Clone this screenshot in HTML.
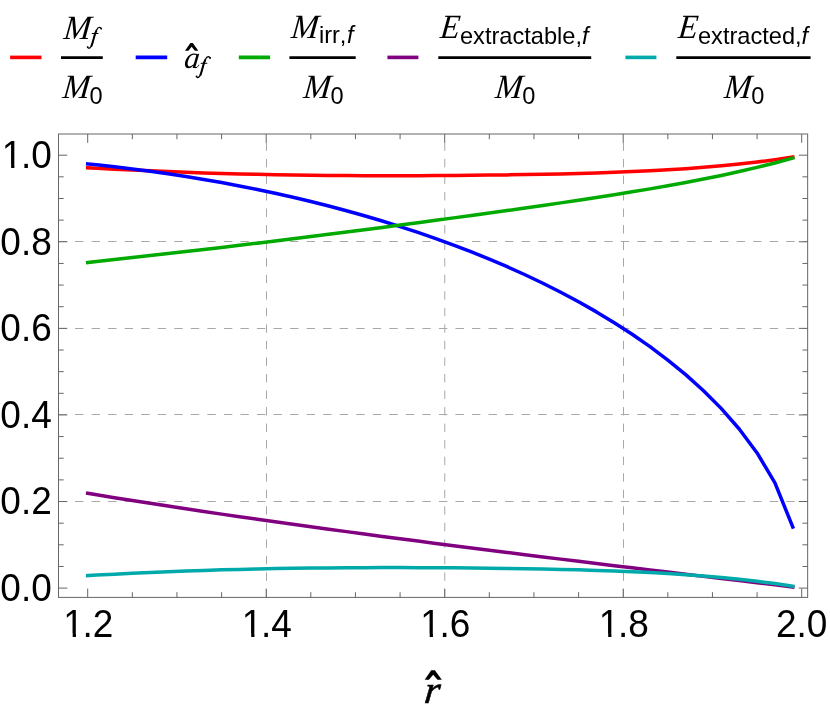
<!DOCTYPE html>
<html><head><meta charset="utf-8"><title>plot</title>
<style>
html,body{margin:0;padding:0;background:#fff;}
svg{display:block;will-change:transform;}
text{fill:#000;}
.sans{font-family:"Liberation Sans",sans-serif;}
.serif{font-family:"Liberation Serif",serif;font-style:italic;}
</style></head><body>
<svg width="830" height="721" viewBox="0 0 830 721">
<rect width="830" height="721" fill="#fff"/>

<g stroke="#a8a8a8" stroke-width="1" fill="none" stroke-dasharray="8.4 8.14">
<path d="M58.50,501.50 H807.65"/>
<path d="M58.50,414.50 H807.65"/>
<path d="M58.50,328.50 H807.65"/>
<path d="M58.50,241.50 H807.65"/>
<path d="M266.50,597.40 V134.00"/>
<path d="M444.75,597.40 V134.00"/>
<path d="M623.50,597.40 V134.00"/>
</g>
<g fill="none" stroke-width="3.5" stroke-linejoin="round" stroke-linecap="square">
<path stroke="#ff0000" d="M87.70,167.75 L96.63,168.23 L114.48,169.15 L132.33,170.02 L150.18,170.83 L168.03,171.58 L185.88,172.26 L203.73,172.88 L221.58,173.43 L239.43,173.92 L257.28,174.34 L275.13,174.70 L292.98,175.00 L310.83,175.24 L328.68,175.42 L346.53,175.56 L364.38,175.65 L382.23,175.70 L400.08,175.70 L417.93,175.66 L435.78,175.58 L453.63,175.47 L471.48,175.31 L489.33,175.12 L507.18,174.88 L525.03,174.60 L542.88,174.27 L560.73,173.89 L578.58,173.43 L596.43,172.90 L614.28,172.29 L632.13,171.57 L649.98,170.74 L667.83,169.77 L685.68,168.64 L703.53,167.33 L721.38,165.81 L739.23,164.06 L757.08,162.04 L774.93,159.71 L792.78,157.03"/>
<path stroke="#0000ff" d="M87.70,163.95 L96.63,164.85 L114.48,166.81 L132.33,168.95 L150.18,171.28 L168.03,173.80 L185.88,176.53 L203.73,179.45 L221.58,182.58 L239.43,185.92 L257.28,189.48 L275.13,193.26 L292.98,197.27 L310.83,201.51 L328.68,205.99 L346.53,210.73 L364.38,215.73 L382.23,221.00 L400.08,226.56 L417.93,232.41 L435.78,238.58 L453.63,245.07 L471.48,251.91 L489.33,259.12 L507.18,266.73 L525.03,274.76 L542.88,283.25 L560.73,292.24 L578.58,301.76 L596.43,311.89 L614.28,322.69 L632.13,334.23 L649.98,346.64 L667.83,360.06 L685.68,374.66 L703.53,390.71 L721.38,408.62 L739.23,428.98 L757.08,452.93 L774.93,482.86 L792.78,527.03"/>
<path stroke="#00aa00" d="M87.70,262.50 L96.63,261.52 L114.48,259.55 L132.33,257.58 L150.18,255.59 L168.03,253.59 L185.88,251.56 L203.73,249.50 L221.58,247.42 L239.43,245.30 L257.28,243.16 L275.13,240.99 L292.98,238.79 L310.83,236.56 L328.68,234.30 L346.53,232.02 L364.38,229.72 L382.23,227.39 L400.08,225.05 L417.93,222.68 L435.78,220.29 L453.63,217.88 L471.48,215.45 L489.33,212.99 L507.18,210.51 L525.03,208.00 L542.88,205.45 L560.73,202.86 L578.58,200.21 L596.43,197.51 L614.28,194.72 L632.13,191.85 L649.98,188.87 L667.83,185.76 L685.68,182.50 L703.53,179.07 L721.38,175.42 L739.23,171.55 L757.08,167.40 L774.93,162.93 L792.78,158.11"/>
<path stroke="#800080" d="M87.70,493.35 L96.63,494.81 L114.48,497.70 L132.33,500.54 L150.18,503.34 L168.03,506.10 L185.88,508.81 L203.73,511.48 L221.58,514.12 L239.43,516.71 L257.28,519.28 L275.13,521.81 L292.98,524.31 L310.83,526.78 L328.68,529.22 L346.53,531.64 L364.38,534.03 L382.23,536.40 L400.08,538.75 L417.93,541.08 L435.78,543.39 L453.63,545.69 L471.48,547.97 L489.33,550.23 L507.18,552.47 L525.03,554.71 L542.88,556.92 L560.73,559.13 L578.58,561.32 L596.43,563.50 L614.28,565.66 L632.13,567.82 L649.98,569.97 L667.83,572.11 L685.68,574.24 L703.53,576.37 L721.38,578.49 L739.23,580.61 L757.08,582.74 L774.93,584.87 L792.78,587.02"/>
<path stroke="#00aaaa" d="M87.70,575.55 L96.63,575.07 L114.48,574.15 L132.33,573.28 L150.18,572.47 L168.03,571.72 L185.88,571.04 L203.73,570.42 L221.58,569.87 L239.43,569.38 L257.28,568.96 L275.13,568.60 L292.98,568.30 L310.83,568.06 L328.68,567.88 L346.53,567.74 L364.38,567.65 L382.23,567.60 L400.08,567.60 L417.93,567.64 L435.78,567.72 L453.63,567.83 L471.48,567.99 L489.33,568.18 L507.18,568.42 L525.03,568.70 L542.88,569.03 L560.73,569.41 L578.58,569.87 L596.43,570.40 L614.28,571.01 L632.13,571.73 L649.98,572.56 L667.83,573.53 L685.68,574.66 L703.53,575.97 L721.38,577.49 L739.23,579.24 L757.08,581.26 L774.93,583.59 L792.78,586.27"/>
</g>
<g stroke="#666666" stroke-width="1" fill="none">
<rect x="58.5" y="134.0" width="749.15" height="463.40"/>
<path d="M87.70,597.40 v-8.8 M87.70,134.00 v8.8 M132.33,597.40 v-5.2 M132.33,134.00 v5.2 M176.95,597.40 v-5.2 M176.95,134.00 v5.2 M221.58,597.40 v-5.2 M221.58,134.00 v5.2 M266.20,597.40 v-8.8 M266.20,134.00 v8.8 M310.82,597.40 v-5.2 M310.82,134.00 v5.2 M355.45,597.40 v-5.2 M355.45,134.00 v5.2 M400.08,597.40 v-5.2 M400.08,134.00 v5.2 M444.70,597.40 v-8.8 M444.70,134.00 v8.8 M489.32,597.40 v-5.2 M489.32,134.00 v5.2 M533.95,597.40 v-5.2 M533.95,134.00 v5.2 M578.58,597.40 v-5.2 M578.58,134.00 v5.2 M623.20,597.40 v-8.8 M623.20,134.00 v8.8 M667.83,597.40 v-5.2 M667.83,134.00 v5.2 M712.45,597.40 v-5.2 M712.45,134.00 v5.2 M757.08,597.40 v-5.2 M757.08,134.00 v5.2 M801.70,597.40 v-8.8 M801.70,134.00 v8.8 M58.50,588.10 h8.8 M807.65,588.10 h-8.8 M58.50,566.46 h5.2 M807.65,566.46 h-5.2 M58.50,544.81 h5.2 M807.65,544.81 h-5.2 M58.50,523.16 h5.2 M807.65,523.16 h-5.2 M58.50,501.52 h8.8 M807.65,501.52 h-8.8 M58.50,479.88 h5.2 M807.65,479.88 h-5.2 M58.50,458.23 h5.2 M807.65,458.23 h-5.2 M58.50,436.59 h5.2 M807.65,436.59 h-5.2 M58.50,414.94 h8.8 M807.65,414.94 h-8.8 M58.50,393.30 h5.2 M807.65,393.30 h-5.2 M58.50,371.65 h5.2 M807.65,371.65 h-5.2 M58.50,350.00 h5.2 M807.65,350.00 h-5.2 M58.50,328.36 h8.8 M807.65,328.36 h-8.8 M58.50,306.71 h5.2 M807.65,306.71 h-5.2 M58.50,285.07 h5.2 M807.65,285.07 h-5.2 M58.50,263.43 h5.2 M807.65,263.43 h-5.2 M58.50,241.78 h8.8 M807.65,241.78 h-8.8 M58.50,220.13 h5.2 M807.65,220.13 h-5.2 M58.50,198.49 h5.2 M807.65,198.49 h-5.2 M58.50,176.84 h5.2 M807.65,176.84 h-5.2 M58.50,155.20 h8.8 M807.65,155.20 h-8.8"/>
</g>
<g class="sans" font-size="37.0">
<text transform="translate(0.31,601.00) scale(1,1.058)">0.0</text>
<text transform="translate(0.31,514.42) scale(1,1.058)">0.2</text>
<text transform="translate(0.31,427.84) scale(1,1.058)">0.4</text>
<text transform="translate(0.31,341.26) scale(1,1.058)">0.6</text>
<text transform="translate(0.31,254.68) scale(1,1.058)">0.8</text>
<text transform="translate(0.31,168.10) scale(1,1.058)"><tspan dx="1.5">1</tspan><tspan dx="-1.5">.0</tspan></text><rect x="3.93" y="164.48" width="7.19" height="4.32" fill="#fff"/><rect x="14.39" y="164.48" width="6.90" height="4.32" fill="#fff"/>
<text transform="translate(61.88,637.10) scale(1,1.058)"><tspan dx="1.5">1</tspan><tspan dx="-1.5">.2</tspan></text><rect x="65.50" y="633.48" width="7.19" height="4.32" fill="#fff"/><rect x="75.96" y="633.48" width="6.90" height="4.32" fill="#fff"/>
<text transform="translate(240.38,637.10) scale(1,1.058)"><tspan dx="1.5">1</tspan><tspan dx="-1.5">.4</tspan></text><rect x="244.00" y="633.48" width="7.19" height="4.32" fill="#fff"/><rect x="254.46" y="633.48" width="6.90" height="4.32" fill="#fff"/>
<text transform="translate(418.88,637.10) scale(1,1.058)"><tspan dx="1.5">1</tspan><tspan dx="-1.5">.6</tspan></text><rect x="422.50" y="633.48" width="7.19" height="4.32" fill="#fff"/><rect x="432.96" y="633.48" width="6.90" height="4.32" fill="#fff"/>
<text transform="translate(597.38,637.10) scale(1,1.058)"><tspan dx="1.5">1</tspan><tspan dx="-1.5">.8</tspan></text><rect x="601.00" y="633.48" width="7.19" height="4.32" fill="#fff"/><rect x="611.46" y="633.48" width="6.90" height="4.32" fill="#fff"/>
<text transform="translate(775.88,637.10) scale(1,1.058)">2.0</text>
</g>
<text class="serif" font-size="39.0" stroke="#000" stroke-width="0.55" transform="translate(423.6,702.9) skewX(-6.0) scale(1.03,1)">r</text>
<path d="M424.7,679.7 L431.2,670.2 L434.9,670.2 L441.8,679.7 L437.5,679.7 L433.2,674.7 L428.9,679.7 Z" fill="#000"/>
<path d="M10.1,57.4 H41.5" stroke="#ff0000" stroke-width="3.6" fill="none"/>
<path d="M61.0,57.7 H102.8" stroke="#000" stroke-width="2.8" fill="none"/>
<text class="serif" font-size="34" transform="translate(63.1,38.6) skewX(-6.0) scale(0.96,1)">M</text>
<g transform="translate(0,0)" fill="none" stroke="#000" stroke-linecap="round" stroke-linejoin="round"><path stroke-width="1.15" d="M101.3,28.7 C101.0,27.6 100.3,27.3 99.4,27.3 C98.0,27.4 97.2,28.6 96.6,30.0 C96.0,31.4 95.5,32.5 95.0,33.9 L92.4,43.3 C91.9,44.8 91.6,45.7 91.0,46.6 C90.3,47.8 89.6,48.3 88.7,48.3 C88.0,48.2 87.7,47.8 87.6,47.2"/><path stroke-width="2.0" d="M96.3,30.8 C95.8,31.9 95.4,32.8 95.0,33.9 L92.4,43.3 C92.1,44.3 91.8,45.1 91.5,45.7"/><path stroke-width="1.0" d="M92.2,33.50 H98.0"/><circle cx="101.2" cy="28.6" r="0.95" fill="#000" stroke="none"/><circle cx="87.7" cy="47.1" r="0.95" fill="#000" stroke="none"/></g>
<text class="serif" font-size="34" transform="translate(61.9,98.2) skewX(-6.0) scale(0.96,1)">M</text><text class="sans" font-size="23.6" x="89.5" y="104.0">0</text>
<path d="M135.7,57.4 H167.2" stroke="#0000ff" stroke-width="3.6" fill="none"/>
<text class="serif" font-size="30.8" transform="translate(183.4,68.1) skewX(-6.0) scale(1.0,1)">a</text>
<path d="M185.0,50.7 L190.4,43.1 L192.8,43.1 L198.3,50.7 L194.9,50.7 L191.6,46.7 L188.4,50.7 Z" fill="#000"/>
<path d="M195.9,67.8 C197.1,67.5 198.1,66.4 198.8,65.1" fill="none" stroke="#000" stroke-width="0.9" stroke-linecap="round"/>
<g transform="translate(108.9,29.3)" fill="none" stroke="#000" stroke-linecap="round" stroke-linejoin="round"><path stroke-width="1.15" d="M101.3,28.7 C101.0,27.6 100.3,27.3 99.4,27.3 C98.0,27.4 97.2,28.6 96.6,30.0 C96.0,31.4 95.5,32.5 95.0,33.9 L92.4,43.3 C91.9,44.8 91.6,45.7 91.0,46.6 C90.3,47.8 89.6,48.3 88.7,48.3 C88.0,48.2 87.7,47.8 87.6,47.2"/><path stroke-width="2.0" d="M96.3,30.8 C95.8,31.9 95.4,32.8 95.0,33.9 L92.4,43.3 C92.1,44.3 91.8,45.1 91.5,45.7"/><path stroke-width="1.0" d="M92.2,34.00 H98.0"/><circle cx="101.2" cy="28.6" r="0.95" fill="#000" stroke="none"/><circle cx="87.7" cy="47.1" r="0.95" fill="#000" stroke="none"/></g>
<path d="M238.8,57.4 H270.1" stroke="#00aa00" stroke-width="3.6" fill="none"/>
<path d="M289.4,57.7 H355.7" stroke="#000" stroke-width="2.8" fill="none"/>
<text class="serif" font-size="34" transform="translate(290.6,37.7) skewX(-6.0) scale(0.96,1)">M</text>
<text class="sans" font-size="23.6" x="319.0" y="43.3">irr<tspan dx="1.0">,</tspan><tspan dx="0.9" font-style="italic">f</tspan></text>
<text class="serif" font-size="34" transform="translate(302.8,98.2) skewX(-6.0) scale(0.96,1)">M</text><text class="sans" font-size="23.6" x="330.4" y="104.0">0</text>
<path d="M387.4,57.4 H418.4" stroke="#800080" stroke-width="3.6" fill="none"/>
<path d="M438.3,57.7 H591.2" stroke="#000" stroke-width="2.8" fill="none"/>
<text class="serif" font-size="34" transform="translate(439.6,37.7) skewX(-6.0) scale(0.94,1)">E</text>
<text class="sans" font-size="23.6" x="460.0" y="43.5">extractable,<tspan font-style="italic">f</tspan></text>
<text class="serif" font-size="34" transform="translate(494.6,98.2) skewX(-6.0) scale(0.96,1)">M</text><text class="sans" font-size="23.6" x="522.2" y="104.0">0</text>
<path d="M625.4,57.4 H656.4" stroke="#00aaaa" stroke-width="3.6" fill="none"/>
<path d="M676.3,57.7 H810.6" stroke="#000" stroke-width="2.8" fill="none"/>
<text class="serif" font-size="34" transform="translate(677.6,37.7) skewX(-6.0) scale(0.94,1)">E</text>
<text class="sans" font-size="23.6" x="698.0" y="43.5">extracted,<tspan font-style="italic">f</tspan></text>
<text class="serif" font-size="34" transform="translate(723.5999999999999,98.2) skewX(-6.0) scale(0.96,1)">M</text><text class="sans" font-size="23.6" x="751.2" y="104.0">0</text>
</svg></body></html>
